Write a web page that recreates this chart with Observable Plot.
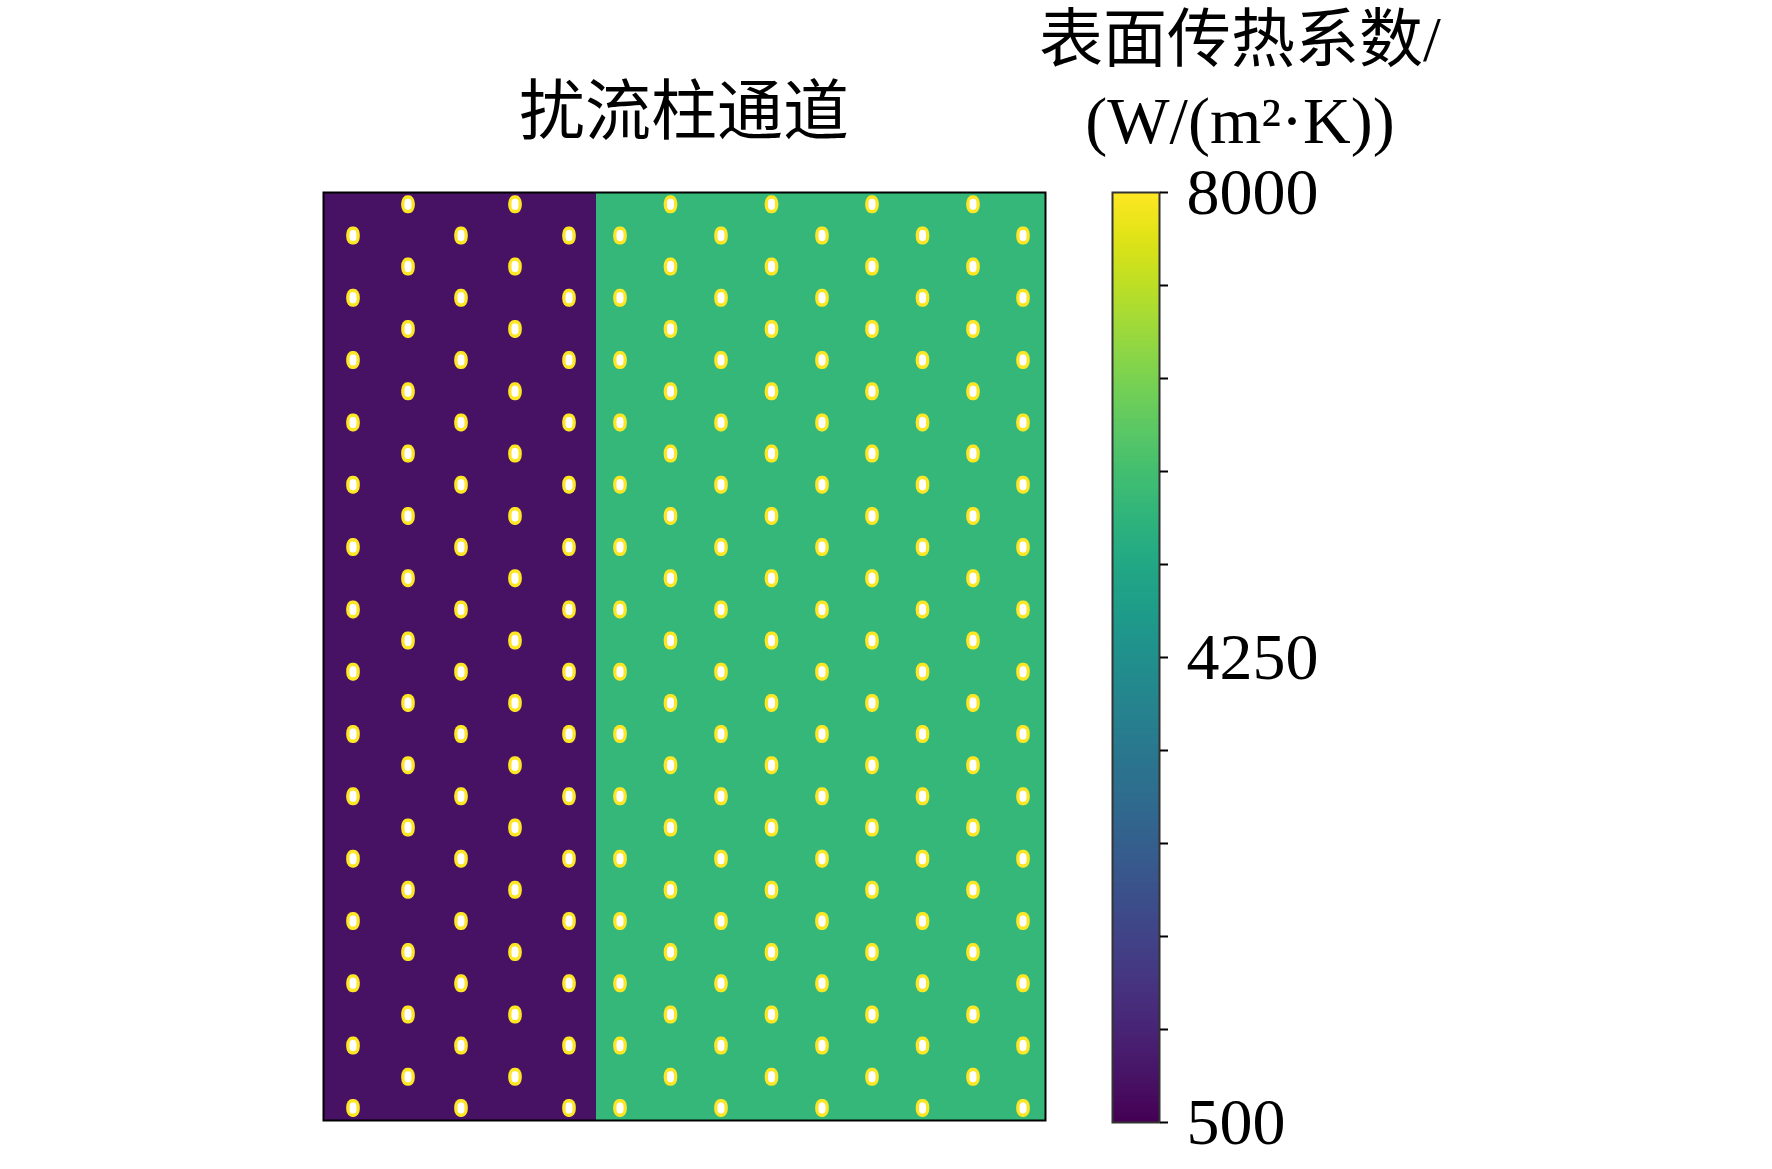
<!DOCTYPE html>
<html>
<head>
<meta charset="utf-8">
<script src="https://cdn.jsdelivr.net/npm/d3@7"></script>
<script src="https://cdn.jsdelivr.net/npm/@observablehq/plot@0.6"></script>
<style>
  body { margin: 0; background: white; }
  #page { position: relative; width: 1772px; height: 1169px; overflow: hidden;
          font-family: "Liberation Serif", "Noto Sans CJK SC", serif; color: black; }
  .txt { position: absolute; text-align: center; white-space: nowrap; font-size: 66px; line-height: 66px; }
  #map, #bar { position: absolute; }
</style>
</head>
<body>
<div id="page">
  <div class="txt" id="title" style="left:384px; width:600px; top:79px;">扰流柱通道</div>
  <div class="txt" style="left:990px; width:500px; top:7px; font-size:64px;">表面传热系数/</div>
  <div class="txt" style="left:990px; width:500px; top:88px;">(W/(m²·K))</div>
  <div id="map" style="left:321px; top:190px;"></div>
  <div id="bar" style="left:1102px; top:152px;"></div>
</div>
<script>
// 通道尺寸 (mm) 与两段区域
const channelW = 72.2
const channelH = 92.8
const regionX1 = [0, 27.3]
const regionX2 = [27.3, 72.2]
const regionValue = [850, 5500]   // 左: 紫色, 右: 绿色
const pinValue = 8000

// 扰流柱位置 (叉排)
const leftColsA = [8.5, 19.2]
const leftColsB = [3.0, 13.8, 24.6]
const rightColsA = [34.75, 44.85, 54.9, 65.0]
const rightColsB = [29.7, 39.8, 49.9, 59.95, 70.0]
const rowsA = [1.23, 7.46, 13.69, 19.93, 26.16, 32.39, 38.62, 44.85, 51.09, 57.32, 63.55, 69.78, 76.01, 82.25, 88.48]
const rowsB = [4.35, 10.58, 16.81, 23.04, 29.27, 35.51, 41.74, 47.97, 54.20, 60.43, 66.67, 72.90, 79.13, 85.36, 91.59]

// 色标
const cbDomain = [500, 8000]
const cbTicks = [500, 1250, 2000, 2750, 3500, 4250, 5000, 5750, 6500, 7250, 8000]
const cbLabels = [500, 4250, 8000]

let regions = regionValue.map((v, i) => ({x1: regionX1[i], x2: regionX2[i], value: v}))
let pins = []
rowsA.forEach(y => leftColsA.concat(rightColsA).forEach(x => pins.push({x, y, value: pinValue})))
rowsB.forEach(y => leftColsB.concat(rightColsB).forEach(x => pins.push({x, y, value: pinValue})))

const colorOpts = {type: "linear", scheme: "viridis", domain: cbDomain}

let map = Plot.plot({
  width: 726,
  height: 932,
  marginLeft: 2, marginRight: 2, marginTop: 2, marginBottom: 2,
  x: {domain: [0, channelW], axis: null},
  y: {domain: [0, channelH], reverse: true, axis: null},
  color: colorOpts,
  style: {background: "transparent"},
  marks: [
    Plot.rect(regions, {x1: "x1", x2: "x2", y1: 0, y2: channelH, fill: "value"}),
    Plot.rect(pins, {
      x1: d => d.x - 0.68, x2: d => d.x + 0.68,
      y1: d => d.y - 0.9, y2: d => d.y + 0.9,
      fill: "value", rx: 6, ry: 8
    }),
    Plot.rect(pins, {
      x1: d => d.x - 0.35, x2: d => d.x + 0.35,
      y1: d => d.y - 0.55, y2: d => d.y + 0.55,
      fill: "white", rx: 3, ry: 4
    }),
    Plot.frame({stroke: "black", strokeWidth: 2})
  ]
})
document.querySelector("#map").append(map)

let bar = Plot.plot({
  width: 257,
  height: 1010,
  marginLeft: 10, marginRight: 200, marginTop: 40, marginBottom: 40,
  x: {domain: [0, 1], axis: null},
  y: {domain: cbDomain, axis: null},
  color: colorOpts,
  style: {background: "transparent", fontFamily: "Liberation Serif, serif"},
  marks: [
    Plot.raster({x1: 0, x2: 1, y1: cbDomain[0], y2: cbDomain[1], width: 2, height: 400, fill: (x, y) => y}),
    Plot.frame({stroke: "#333", strokeWidth: 2}),
    Plot.axisY(cbTicks, {
      anchor: "right", tickSize: 8, tickPadding: 19, strokeWidth: 2,
      fontSize: 66, fill: "black",
      tickFormat: d => cbLabels.includes(d) ? String(d) : ""
    })
  ]
})
document.querySelector("#bar").append(bar)
</script>
</body>
</html>
